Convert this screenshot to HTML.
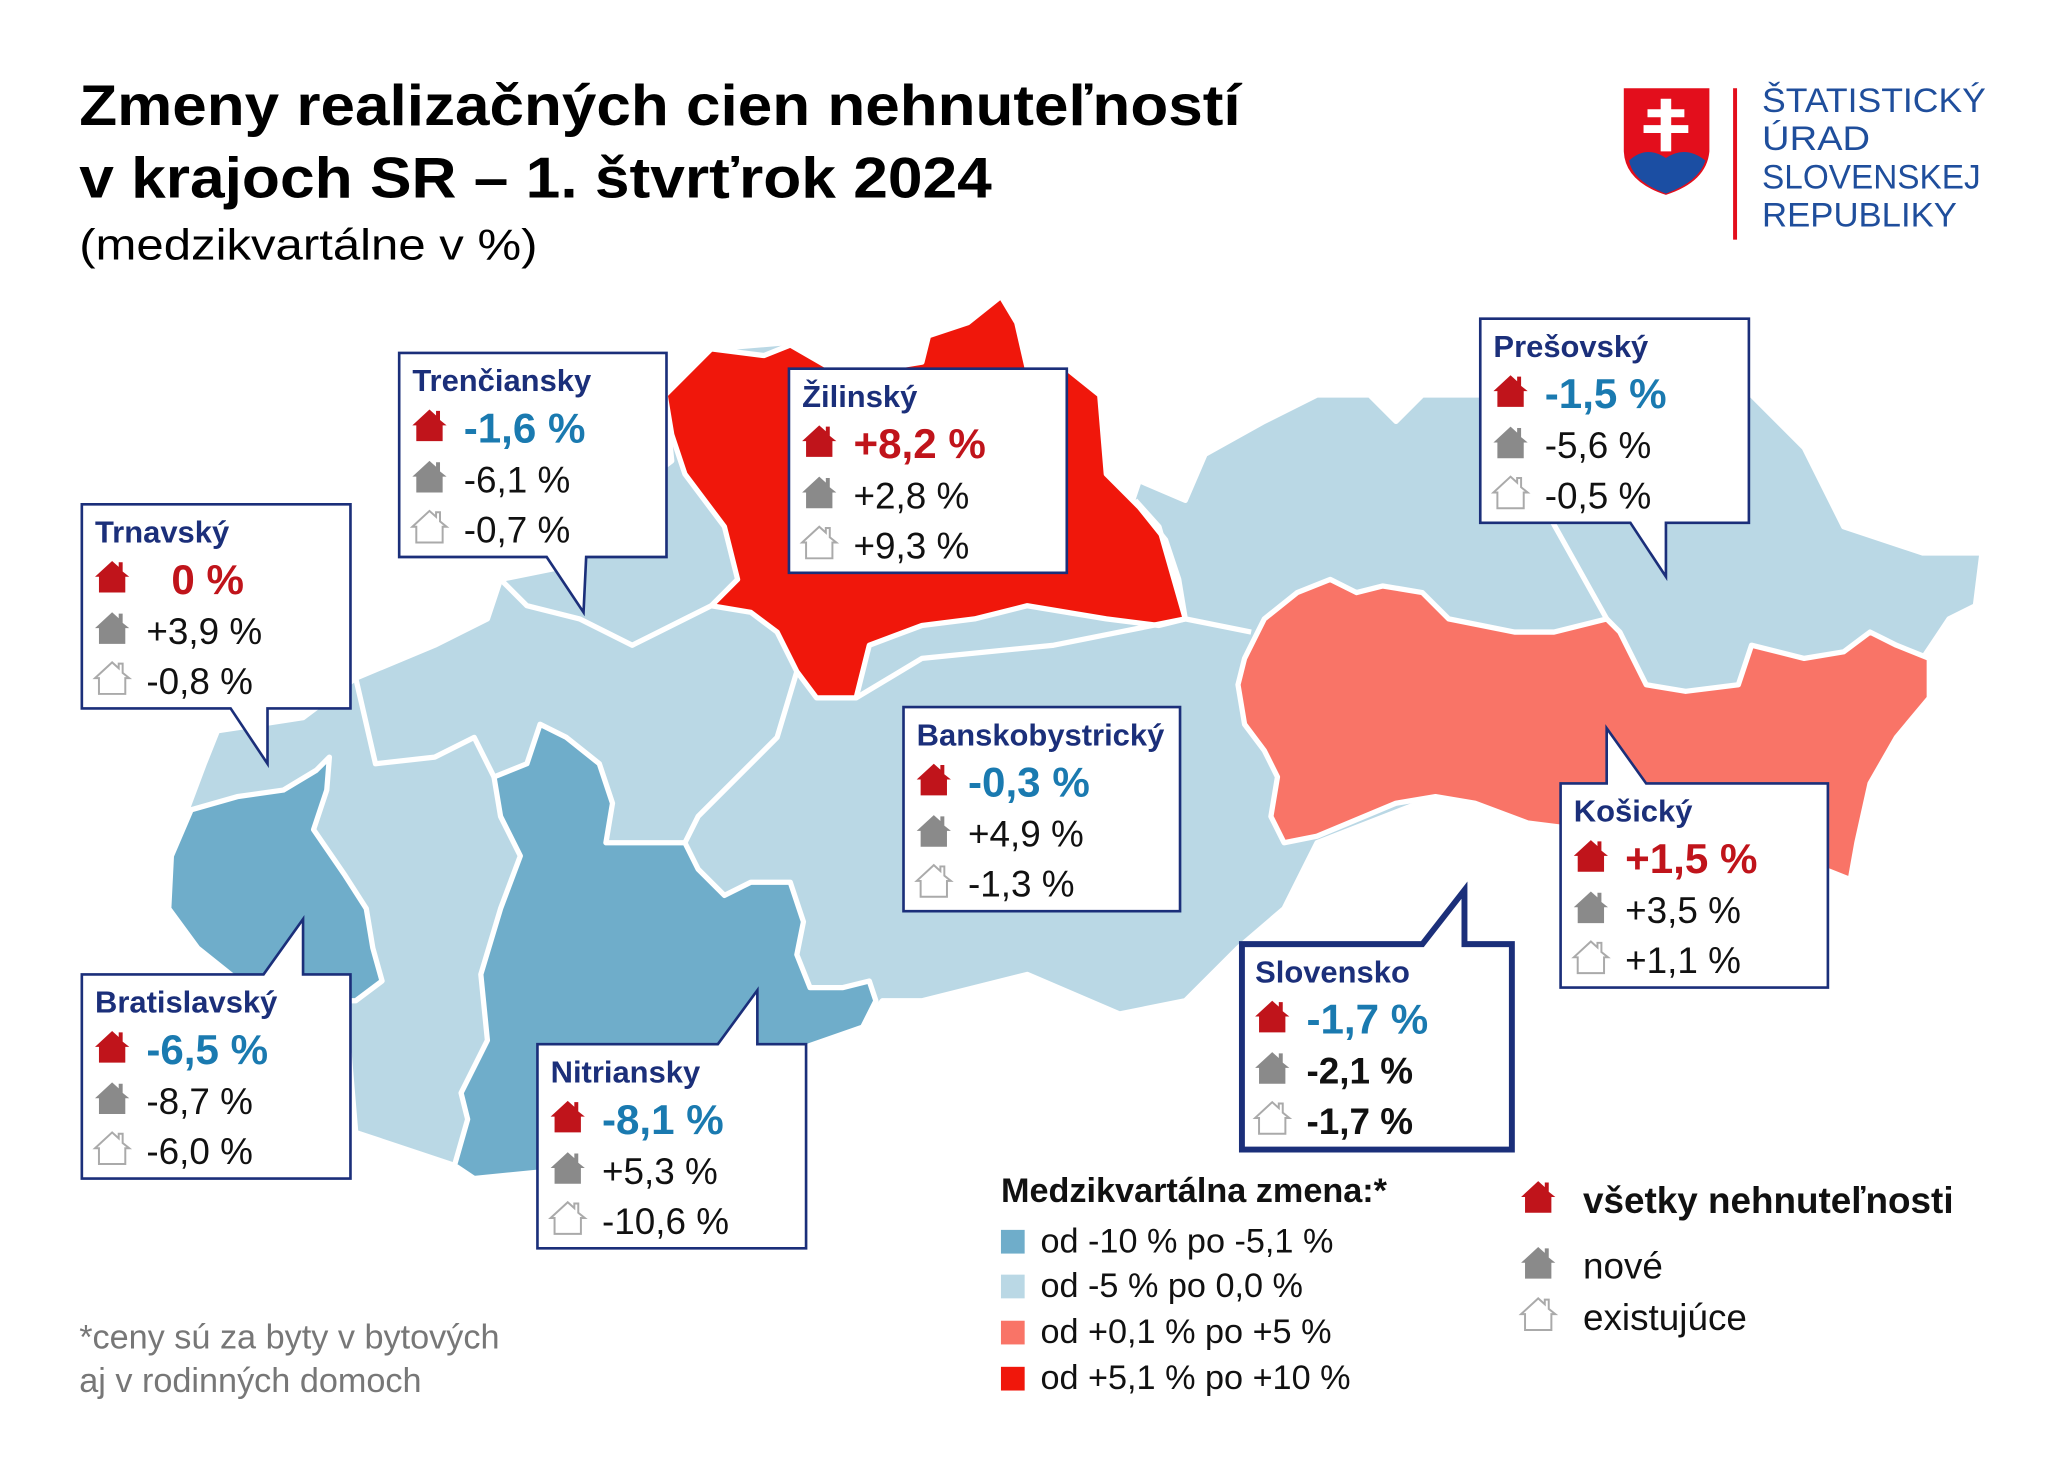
<!DOCTYPE html>
<html><head><meta charset="utf-8">
<style>
html,body{margin:0;padding:0;background:#fff;}
svg{display:block;font-family:"Liberation Sans",Arial,sans-serif;}
</style></head>
<body>
<svg id="c" width="2048" height="1459" viewBox="0 0 1555 1108" xmlns="http://www.w3.org/2000/svg">
<defs>
<g id="house">
<path d="M0,12 L13,0 L18,4.5 L18,1 L21,1 L21,8 L26,12 L23,12 L23,24 L3,24 L3,12 Z"/>
</g>
</defs>
<g>
<text x="60" y="95" font-size="44" font-weight="bold" fill="#000" textLength="882" lengthAdjust="spacingAndGlyphs">Zmeny realizačných cien nehnuteľností</text>
<text x="60" y="150" font-size="44" font-weight="bold" fill="#000" textLength="693" lengthAdjust="spacingAndGlyphs">v krajoch SR – 1. štvrťrok 2024</text>
<text x="60" y="197" font-size="33" fill="#000" textLength="348" lengthAdjust="spacingAndGlyphs">(medzikvartálne v %)</text>
</g>
<g>
<path d="M1233,67 L1298,67 L1298,115 Q1296,138 1265,148 Q1234,138 1233,115 Z" fill="#e30e1c"/>
<path d="M1237,122 Q1250,110 1265,120 Q1280,110 1295,122 Q1290,138 1265,147 Q1240,138 1237,122Z" fill="#1b4ea3"/>
<path d="M1261,75 h8 v8 h10 v6 h-10 v6 h13 v6 h-13 v14 h-8 v-14 h-13 v-6 h13 v-6 h-10 v-6 h10 Z" fill="#fff"/>
<rect x="1316" y="67" width="3" height="115" fill="#e30e1c"/>
<g font-size="26" fill="#1f4e9c">
<text x="1338" y="85" textLength="170" lengthAdjust="spacingAndGlyphs">ŠTATISTICKÝ</text>
<text x="1338" y="114" textLength="82" lengthAdjust="spacingAndGlyphs">ÚRAD</text>
<text x="1338" y="143" textLength="166" lengthAdjust="spacingAndGlyphs">SLOVENSKEJ</text>
<text x="1338" y="172" textLength="148" lengthAdjust="spacingAndGlyphs">REPUBLIKY</text>
</g>
</g>
<g stroke="#fff" stroke-width="4" stroke-linejoin="round">
<path fill="#bad8e5" d="M130,650 L140,620 L155,580 L165,555 L230,545 L270,515 L330,490 L370,470 L380,440 L430,430 L470,380 L510,350 L505,300 L540,265 L600,260 L640,285 L700,275 L710,250 L740,245 L760,225 L775,250 L780,280 L810,280 L835,300 L840,360 L860,380 L865,365 L900,380 L915,345 L960,320 L1000,300 L1040,300 L1060,320 L1080,300 L1125,300 L1330,300 L1370,340 L1400,400 L1460,420 L1505,420 L1500,460 L1480,470 L1460,500 L1465,530 L1440,560 L1420,595 L1410,640 L1405,668 L1385,660 L1340,625 L1270,640 L1160,625 L1090,605 L1000,640 L990,660 L975,690 L940,720 L900,760 L850,770 L780,740 L700,760 L670,760 L655,780 L612,795 L560,810 L410,890 L360,895 L345,885 L300,870 L270,860 L265,800 L200,760 L150,720 L128,690 Z"/>
<path fill="#6fadca" d="M128,690 L130,650 L145,615 L180,605 L215,600 L240,585 L250,575 L248,600 L238,630 L262,665 L278,690 L283,720 L290,745 L270,760 L200,760 L150,720 Z"/>
<path fill="#6fadca" d="M375,590 L400,580 L410,550 L430,560 L455,580 L465,610 L460,640 L520,640 L530,660 L550,680 L570,670 L600,670 L610,700 L605,725 L615,750 L640,750 L660,745 L665,760 L655,780 L612,795 L560,810 L410,890 L360,895 L345,885 L355,850 L350,830 L370,790 L365,740 L380,690 L395,650 L380,620 Z"/>
<path fill="#f0170b" d="M505,300 L540,265 L580,270 L600,262 L640,285 L700,275 L705,255 L735,245 L760,225 L772,245 L780,280 L810,280 L835,300 L840,360 L865,385 L885,410 L895,440 L900,470 L880,475 L840,470 L780,460 L740,470 L700,475 L660,490 L650,530 L620,530 L605,510 L590,480 L570,465 L540,460 L560,440 L550,400 L520,360 L510,330 Z"/>
<path fill="#f97467" d="M945,500 L960,470 L985,450 L1010,440 L1030,450 L1050,445 L1080,450 L1100,470 L1150,480 L1180,480 L1220,470 L1230,480 L1250,520 L1280,525 L1320,520 L1330,490 L1370,500 L1400,495 L1420,480 L1440,490 L1465,500 L1465,530 L1440,560 L1420,595 L1410,640 L1405,668 L1385,660 L1340,625 L1270,640 L1200,630 L1160,625 L1120,610 L1090,605 L1060,610 L1000,635 L975,640 L965,620 L970,590 L960,570 L945,550 L940,520 Z"/>
<path fill="none" d="M270,515 L285,580 L330,575 L360,560 L375,590 M380,440 L400,460 L440,470 L480,490 L520,470 L540,460 M605,510 L590,560 L560,590 L530,620 L520,640 M650,530 L700,500 L800,490 L900,470 L950,480 M862,380 L880,400 L900,470 M1125,300 L1220,470"/>
</g>
<g id="boxes"></g>
<g>
<text x="760" y="913" font-size="26" font-weight="bold" fill="#111">Medzikvartálna zmena:*</text>
<rect x="760" y="934" width="18" height="18" fill="#6fadca"/><text x="790" y="951" font-size="26" fill="#111">od -10 % po -5,1 %</text>
<rect x="760" y="968" width="18" height="18" fill="#bad8e5"/><text x="790" y="985" font-size="26" fill="#111">od -5 % po 0,0 %</text>
<rect x="760" y="1003" width="18" height="18" fill="#f97467"/><text x="790" y="1020" font-size="26" fill="#111">od +0,1 % po +5 %</text>
<rect x="760" y="1038" width="18" height="18" fill="#f0170b"/><text x="790" y="1055" font-size="26" fill="#111">od +5,1 % po +10 %</text>
<use href="#house" x="1155" y="897" fill="#c0141b"/>
<text x="1202" y="921" font-size="28" font-weight="bold" fill="#111">všetky nehnuteľnosti</text>
<use href="#house" x="1155" y="947" fill="#8a8a8a"/>
<text x="1202" y="971" font-size="28" fill="#111">nové</text>
<use href="#house" x="1155" y="986" fill="#fff" stroke="#aaa" stroke-width="1.5"/>
<text x="1202" y="1010" font-size="28" fill="#111">existujúce</text>
</g>
<g font-size="26" fill="#777">
<text x="60" y="1024">*ceny sú za byty v bytových</text>
<text x="60" y="1057">aj v rodinných domoch</text>
</g>
</svg>
<script>
const regions=["Trenčiansky","Trnavský","Žilinský","Prešovský","Banskobystrický","Košický","Slovensko","Bratislavský","Nitriansky"];
const allVals=["-1,6 %","0 %","+8,2 %","-1,5 %","-0,3 %","+1,5 %","-1,7 %","-6,5 %","-8,1 %"];
const newVals=["-6,1 %","+3,9 %","+2,8 %","-5,6 %","+4,9 %","+3,5 %","-2,1 %","-8,7 %","+5,3 %"];
const existVals=["-0,7 %","-0,8 %","+9,3 %","-0,5 %","-1,3 %","+1,1 %","-1,7 %","-6,0 %","-10,6 %"];
// layout (not data)
const L=[
 {x:303,y:268,w:203,h:155,t:"down",a:415,b:445,tx:443,ty:465},
 {x:62,y:383,w:204,h:155,t:"down",a:175,b:203,tx:203,ty:580},
 {x:599,y:280,w:211,h:155},
 {x:1124,y:242,w:204,h:155,t:"down",a:1238,b:1265,tx:1265,ty:438},
 {x:686,y:537,w:210,h:155},
 {x:1185,y:595,w:203,h:155,t:"up",a:1220,b:1250,tx:1220,ty:553},
 {x:943,y:717,w:205,h:156,t:"up",a:1080,b:1112,tx:1112,ty:676,thick:true},
 {x:62,y:740,w:204,h:155,t:"up",a:200,b:230,tx:230,ty:698},
 {x:408,y:793,w:204,h:155,t:"up",a:545,b:575,tx:575,ty:752}
];
const NS="http://www.w3.org/2000/svg";
const g=document.getElementById('boxes');
function mk(tag,at,parent){const e=document.createElementNS(NS,tag);for(const k in at)e.setAttribute(k,at[k]);parent.appendChild(e);return e;}
regions.forEach((name,i)=>{
 const l=L[i];
 const grp=mk('g',{},g);
 
 
 const sw=l.thick?4.5:2;
 let d;
 const x0=l.x,y0=l.y,x1=l.x+l.w,y1=l.y+l.h;
 if(l.t==="down") d=`M${x0},${y0} H${x1} V${y1} H${l.b} L${l.tx},${l.ty} L${l.a},${y1} H${x0} Z`;
 else if(l.t==="up") d=`M${x0},${y0} H${l.a} L${l.tx},${l.ty} L${l.b},${y0} H${x1} V${y1} H${x0} Z`;
 else d=`M${x0},${y0} H${x1} V${y1} H${x0} Z`;
 mk('path',{d:d,fill:'#fff',stroke:'#1b2f7a','stroke-width':sw,'stroke-linejoin':'miter'},grp);
 const tx=mk('text',{x:x0+10,y:y0+29,'font-size':23.5,'font-weight':'bold',fill:'#1b2f7a'},grp);tx.textContent=name;
 const v=allVals[i];
 const num=parseFloat(v.replace(',','.').replace('%',''));
 const col=num<0?'#1a7ab0':'#c0141b';
 mk('use',{href:'#house',x:x0+10,y:y0+43,fill:'#c0141b'},grp);
 const t1=mk('text',{x:(num===0?x0+68:x0+49),y:y0+68,'font-size':32,'font-weight':'bold',fill:col},grp);t1.textContent=v;
 
 
 mk('use',{href:'#house',x:x0+10,y:y0+82,fill:'#8a8a8a'},grp);
 const t2=mk('text',{x:x0+49,y:y0+106,'font-size':28,fill:'#111','font-weight':l.thick?'bold':'normal'},grp);t2.textContent=newVals[i];
 
 
 mk('use',{href:'#house',x:x0+10,y:y0+120,fill:'#fff',stroke:'#aaa','stroke-width':1.5},grp);
 const t3=mk('text',{x:x0+49,y:y0+144,'font-size':28,fill:'#111','font-weight':l.thick?'bold':'normal'},grp);t3.textContent=existVals[i];
 
 
});
</script>
</body></html>
